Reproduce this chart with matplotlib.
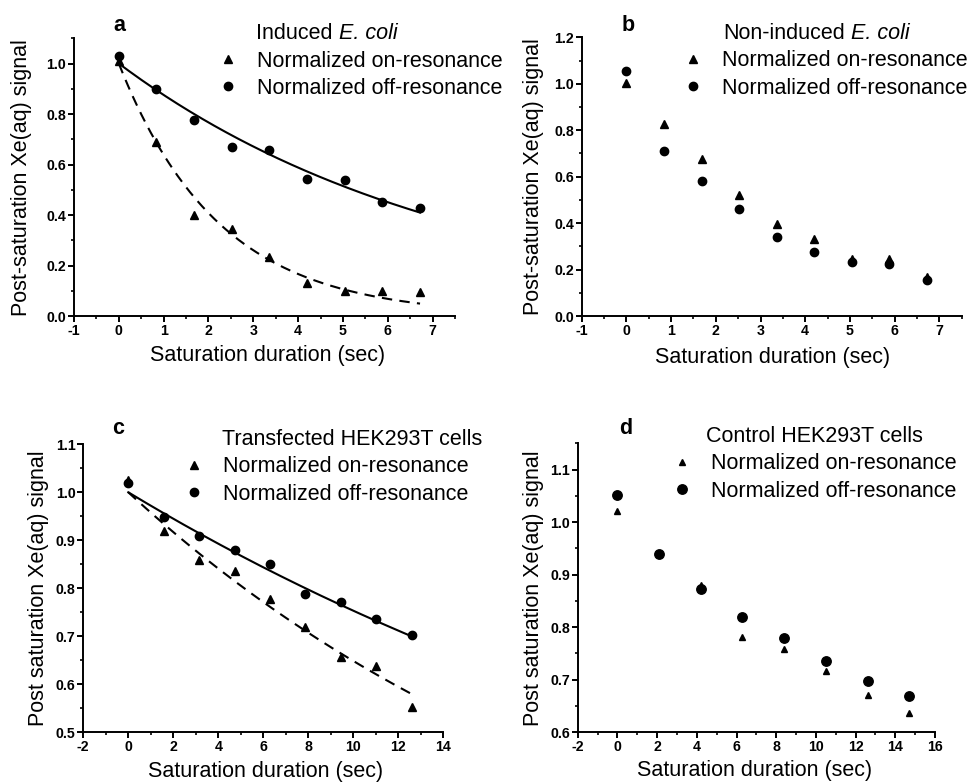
import numpy as np
import matplotlib
matplotlib.use('Agg')
import matplotlib.pyplot as plt
from matplotlib.ticker import MultipleLocator, FormatStrFormatter

plt.rcParams['font.family'] = ['Liberation Sans', 'DejaVu Sans']

# ---------------- data ----------------
time_ecoli = [0, 0.84, 1.68, 2.52, 3.36, 4.20, 5.04, 5.88, 6.72]
a_on = [1.01, 0.69, 0.40, 0.345, 0.235, 0.13, 0.10, 0.10, 0.094]
a_off = [1.03, 0.90, 0.778, 0.670, 0.657, 0.542, 0.538, 0.452, 0.428]
b_on = [1.005, 0.827, 0.675, 0.521, 0.395, 0.332, 0.245, 0.244, 0.169]
b_off = [1.055, 0.712, 0.581, 0.459, 0.342, 0.277, 0.231, 0.222, 0.155]

time_c = [0, 1.575, 3.15, 4.725, 6.3, 7.875, 9.45, 11.025, 12.6]
c_on = [1.026, 0.920, 0.860, 0.836, 0.777, 0.720, 0.656, 0.639, 0.552]
c_off = [1.020, 0.949, 0.909, 0.880, 0.850, 0.788, 0.772, 0.737, 0.703]

time_d = [0, 2.1, 4.2, 6.3, 8.4, 10.5, 12.6, 14.7]
d_on = [1.021, 0.940, 0.880, 0.782, 0.758, 0.716, 0.671, 0.637]
d_off = [1.051, 0.940, 0.873, 0.820, 0.780, 0.736, 0.698, 0.669]

# fitted mono-exponential decay time constants (sec)
fit_tau_a_off = 7.53
fit_tau_a_on = 2.23
fit_tau_c_off = 35.3
fit_tau_c_on = 23.1

titles_plain = ["Induced", "Non-induced", "Transfected HEK293T cells", "Control HEK293T cells"]
titles_italic = [" E. coli", " E. coli", None, None]
panel_letters = ["a", "b", "c", "d"]
label_on = "Normalized on-resonance"
label_off = "Normalized off-resonance"
xlabel = "Saturation duration (sec)"
ylabels = ["Post-saturation Xe(aq) signal", "Post-saturation Xe(aq) signal",
           "Post saturation Xe(aq) signal", "Post saturation Xe(aq) signal"]

FS = 15.5

# ---------------- figure ----------------
W, H = 975, 783
fig = plt.figure(figsize=(W / 100, H / 100), dpi=100)

def px_axes(l, r, t, b):
    return fig.add_axes([l / W, 1 - b / H, (r - l) / W, (b - t) / H])

axa = px_axes(74, 455, 38.3, 316)
axb = px_axes(581.7, 961.7, 37.3, 316)
axc = px_axes(83.3, 443.3, 444.3, 732.3)
axd = px_axes(577.7, 935, 443.3, 732.3)
axes = [axa, axb, axc, axd]

def style(ax, xlim, ylim, xmaj, xmin, ymaj, ymin):
    ax.set_xlim(*xlim)
    ax.set_ylim(*ylim)
    for s in ['top', 'right']:
        ax.spines[s].set_visible(False)
    for s in ['left', 'bottom']:
        ax.spines[s].set_linewidth(1.4)
    ax.xaxis.set_major_locator(MultipleLocator(xmaj))
    ax.xaxis.set_minor_locator(MultipleLocator(xmin))
    ax.yaxis.set_major_locator(MultipleLocator(ymaj))
    ax.yaxis.set_minor_locator(MultipleLocator(ymin))
    ax.yaxis.set_major_formatter(FormatStrFormatter('%.1f'))
    ax.xaxis.set_major_formatter(FormatStrFormatter('%d'))
    ax.tick_params(which='major', direction='out', length=4, width=1.4,
                   labelsize=10.2, pad=1.5)
    ax.tick_params(which='minor', direction='out', length=2.5, width=1.2)
    for lab in ax.get_xticklabels() + ax.get_yticklabels():
        lab.set_fontweight('bold')
    ax.set_xlabel(xlabel, fontsize=FS)

style(axa, (-1, 7.5), (0, 1.1), 1, 0.5, 0.2, 0.1)
style(axb, (-1, 7.5), (0, 1.2), 1, 0.5, 0.2, 0.1)
style(axc, (-2, 14), (0.5, 1.1), 2, 1, 0.1, 0.05)
style(axd, (-2, 16), (0.6, 1.15), 2, 1, 0.1, 0.05)

ylabel_x = [-0.110, -0.099, -0.095, -0.094]
xlabel_pos = [(0.508, -0.104), (0.501, -0.113), (0.505, -0.100), (0.496, -0.097)]
for ax, yl, yx, xp in zip(axes, ylabels, ylabel_x, xlabel_pos):
    ax.set_ylabel(yl, fontsize=FS)
    ax.yaxis.set_label_coords(yx, 0.5)
    ax.xaxis.set_label_coords(*xp)

ms_a = 6.0
# panel a
axa.plot(time_ecoli, a_on, ls='none', marker='^', color='k', ms=ms_a, label=label_on)
axa.plot(time_ecoli, a_off, ls='none', marker='o', color='k', ms=ms_a, label=label_off)
ta = np.linspace(0, time_ecoli[-1], 200)
axa.plot(ta, np.exp(-ta / fit_tau_a_off), color='k', lw=1.5)
axa.plot(ta, np.exp(-ta / fit_tau_a_on), color='k', lw=1.5, ls=(0, (5, 3.5)))

# panel b
axb.plot(time_ecoli, b_on, ls='none', marker='^', color='k', ms=ms_a, label=label_on)
axb.plot(time_ecoli, b_off, ls='none', marker='o', color='k', ms=ms_a, label=label_off)

# panel c
axc.plot(time_c, c_on, ls='none', marker='^', color='k', ms=ms_a, label=label_on)
axc.plot(time_c, c_off, ls='none', marker='o', color='k', ms=ms_a, label=label_off)
tc = np.linspace(0, time_c[-1], 200)
axc.plot(tc, np.exp(-tc / fit_tau_c_off), color='k', lw=1.5)
axc.plot(tc, np.exp(-tc / fit_tau_c_on), color='k', lw=1.5, ls=(0, (5, 3.5)))

# panel d
axd.plot(time_d, d_on, ls='none', marker='^', color='k', ms=4.5, label=label_on)
axd.plot(time_d, d_off, ls='none', marker='o', color='k', ms=6.8, label=label_off)

legend_pos = [(0.375, 0.956), (0.264, 0.953), (0.277, 0.958), (0.261, 0.965)]
title_pos = [(0.478, 1.019), (0.372, 1.015), (0.386, 1.018), (0.359, 1.022)]
for ax, lp, tp, t, ti in zip(axes, legend_pos, title_pos, titles_plain, titles_italic):
    ax.legend(loc='upper left', bbox_to_anchor=lp, frameon=False, fontsize=FS,
              handlelength=1.0, handletextpad=0.85, labelspacing=0.3,
              borderpad=0, borderaxespad=0, numpoints=1)
    t1 = ax.text(tp[0], tp[1], t, transform=ax.transAxes, fontsize=FS,
                 ha='left', va='center')
    if ti:
        ax.annotate(ti, xy=(1, 0.5), xycoords=t1, fontsize=FS, style='italic',
                    ha='left', va='center')

letter_pos = [(0.122, 0.968), (0.644, 0.968), (0.121, 0.453), (0.642, 0.453)]
for (x, y), L in zip(letter_pos, panel_letters):
    fig.text(x, y, L, fontsize=15.5, fontweight='bold', ha='center', va='center')

fig.savefig('out.png', dpi=100)
